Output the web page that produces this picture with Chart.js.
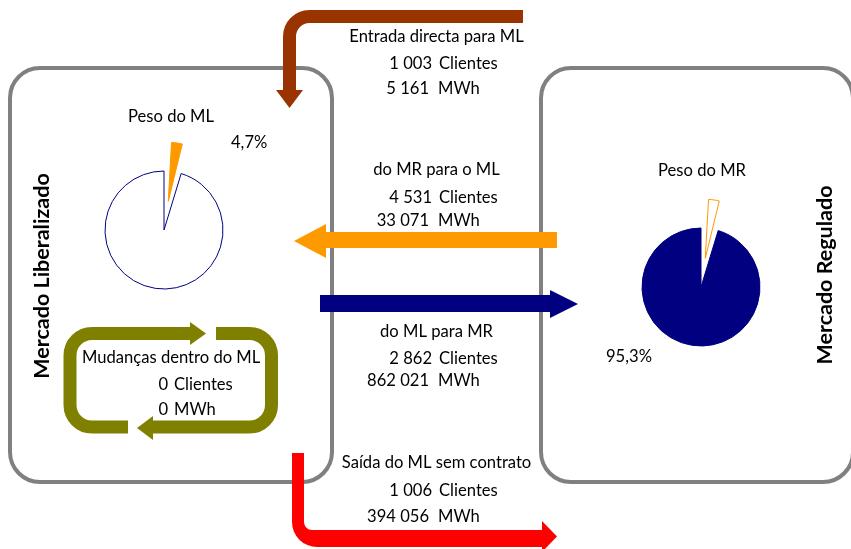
<!DOCTYPE html>
<html>
<head>
<meta charset="utf-8">
<script src="https://cdn.jsdelivr.net/npm/chart.js@4"></script>
<style>
  html, body { margin: 0; padding: 0; background: #fff; }
  #page { position: relative; width: 851px; height: 549px; overflow: hidden; }
  canvas { position: absolute; }
</style>
</head>
<body>
<div id="page">
  <canvas id="diagram" width="851" height="549" style="left:0;top:0"></canvas>
  <canvas id="pieML" width="200" height="200" style="left:64px;top:130px"></canvas>
  <canvas id="pieMR" width="200" height="200" style="left:601px;top:187px"></canvas>
</div>
<script>
// chart data
const marketLabels = ['Mercado Liberalizado', 'Mercado Regulado'];
const marketShare = [4.7, 95.3];
const flowTitles = ['Entrada directa para ML', 'do MR para o ML', 'do ML para MR', 'Saída do ML sem contrato'];
const flowClients = [1003, 4531, 2862, 1006];
const flowEnergy = [5161, 33071, 862021, 394056];
const internalTitle = 'Mudanças dentro do ML';
const internalClients = 0;
const internalEnergy = 0;

const fontName = 'Lato, "Open Sans", sans-serif';
const ctx = document.getElementById('diagram').getContext('2d');

function fmtNum(n) {
    return n.toString().replace(/\B(?=(\d{3})+(?!\d))/g, ' ');
}
function fmtPct(v) {
    return v.toFixed(1).replace('.', ',') + '%';
}

function roundBox(x, y, w, h, r) {
    ctx.beginPath();
    ctx.moveTo(x + r, y);
    ctx.arcTo(x + w, y, x + w, y + h, r);
    ctx.arcTo(x + w, y + h, x, y + h, r);
    ctx.arcTo(x, y + h, x, y, r);
    ctx.arcTo(x, y, x + w, y, r);
    ctx.closePath();
    ctx.lineWidth = 4;
    ctx.strokeStyle = '#808080';
    ctx.stroke();
}

function tri(color, pts) {
    ctx.fillStyle = color;
    ctx.beginPath();
    ctx.moveTo(pts[0], pts[1]);
    ctx.lineTo(pts[2], pts[3]);
    ctx.lineTo(pts[4], pts[5]);
    ctx.closePath();
    ctx.fill();
}

function text(str, x, y, align, bold) {
    ctx.font = (bold ? 'bold 21.5px ' : '16.6px ') + fontName;
    ctx.fillStyle = '#000';
    ctx.textAlign = align || 'left';
    ctx.textBaseline = 'middle';
    ctx.fillText(str, x, y);
}

function drawDiagram() {
    // market boxes
    roundBox(10, 68, 322, 414, 30);
    roundBox(541, 68, 312, 414, 30);

    ctx.lineCap = 'butt';
    ctx.lineJoin = 'miter';

    // brown: direct entry into ML
    ctx.strokeStyle = '#993300';
    ctx.lineWidth = 13;
    ctx.beginPath();
    ctx.moveTo(523, 16.5);
    ctx.arcTo(289.5, 16.5, 289.5, 40, 20);
    ctx.lineTo(289.5, 91);
    ctx.stroke();
    tri('#993300', [276, 90, 303, 90, 289.5, 108]);

    // orange: MR -> ML
    ctx.fillStyle = '#FF9900';
    ctx.fillRect(325, 232, 232, 16);
    tri('#FF9900', [326, 224, 326, 258, 294, 241]);

    // navy: ML -> MR
    ctx.fillStyle = '#000080';
    ctx.fillRect(320, 295, 231, 17);
    tri('#000080', [550, 290, 550, 318, 578, 304]);

    // red: exit without contract
    ctx.fillStyle = '#FF0000';
    ctx.beginPath();
    ctx.moveTo(292, 453);
    ctx.arcTo(292, 547, 330, 547, 25);
    ctx.lineTo(543, 547);
    ctx.lineTo(543, 530);
    ctx.arcTo(304, 530, 304, 500, 8);
    ctx.lineTo(304, 453);
    ctx.closePath();
    ctx.fill();
    tri('#FF0000', [542, 521, 557, 536.5, 542, 552]);

    // olive loop: changes inside ML
    ctx.strokeStyle = '#808000';
    ctx.lineWidth = 13;
    ctx.beginPath();
    ctx.moveTo(128, 427);
    ctx.arcTo(70, 427, 70, 380, 22);
    ctx.arcTo(70, 333.5, 150, 333.5, 22);
    ctx.lineTo(191, 333.5);
    ctx.stroke();
    tri('#808000', [190, 322, 206, 333.5, 190, 345]);
    ctx.beginPath();
    ctx.moveTo(216, 333.5);
    ctx.arcTo(271.5, 333.5, 271.5, 380, 22);
    ctx.arcTo(271.5, 427, 200, 427, 22);
    ctx.lineTo(152, 427);
    ctx.stroke();
    tri('#808000', [153, 416, 137, 428, 153, 440]);

    // flow texts
    const titleY = [37, 170, 332, 463];
    const clientY = [64, 198, 359, 491];
    const energyY = [89, 221, 381, 517];
    flowTitles.forEach((t, i) => {
        text(t, 436.5, titleY[i], 'center');
        text(fmtNum(flowClients[i]), 432, clientY[i], 'right');
        text('Clientes', 439, clientY[i], 'left');
        text(fmtNum(flowEnergy[i]), 429, energyY[i], 'right');
        text('MWh', 438, energyY[i], 'left');
    });

    text(internalTitle, 82, 358, 'left');
    text(fmtNum(internalClients), 168, 385, 'right');
    text('Clientes', 174, 385, 'left');
    text(fmtNum(internalEnergy), 168, 410, 'right');
    text('MWh', 174, 410, 'left');

    // pie titles and shares
    text('Peso do ML', 171, 117, 'center');
    text(fmtPct(marketShare[0]), 231, 143, 'left');
    text('Peso do MR', 702, 171, 'center');
    text(fmtPct(marketShare[1]), 606, 357, 'left');

    // vertical market names
    ctx.save();
    ctx.translate(42, 276);
    ctx.rotate(-Math.PI / 2);
    text(marketLabels[0], 0, 0, 'center', true);
    ctx.restore();
    ctx.save();
    ctx.translate(825, 275);
    ctx.rotate(-Math.PI / 2);
    text(marketLabels[1], 0, 0, 'center', true);
    ctx.restore();
}

// Chart.js grows an exploded arc's radius along with its offset;
// keep the pulled-out slice the same size as the rest of the pie
const keepSliceRadius = {
    id: 'keepSliceRadius',
    afterDatasetUpdate(chart, args) {
        args.meta.data.forEach(arc => {
            const o = (arc.options.offset || 0) / 4;
            if (o) {
                const fix = 1 - Math.sin(Math.min(Math.PI, arc.circumference));
                arc.outerRadius -= o * fix;
            }
        });
    }
};

function makePie(id, fills, borders) {
    return new Chart(document.getElementById(id), {
        type: 'pie',
        data: {
            labels: marketLabels,
            datasets: [{
                data: marketShare,
                backgroundColor: fills,
                borderColor: borders,
                borderWidth: 1,
                // Chart.js moves an arc by offset / 4
                offset: [116, 0]
            }]
        },
        options: {
            responsive: false,
            animation: false,
            radius: 59,
            layout: { padding: 0 },
            events: [],
            plugins: {
                legend: { display: false },
                tooltip: { enabled: false }
            }
        },
        plugins: [keepSliceRadius]
    });
}

drawDiagram();
makePie('pieML', ['#FF9900', '#FFFFFF'], ['#FF9900', '#000080']);
makePie('pieMR', ['#FFFFFF', '#000080'], ['#FF9900', '#000080']);
</script>
</body>
</html>
